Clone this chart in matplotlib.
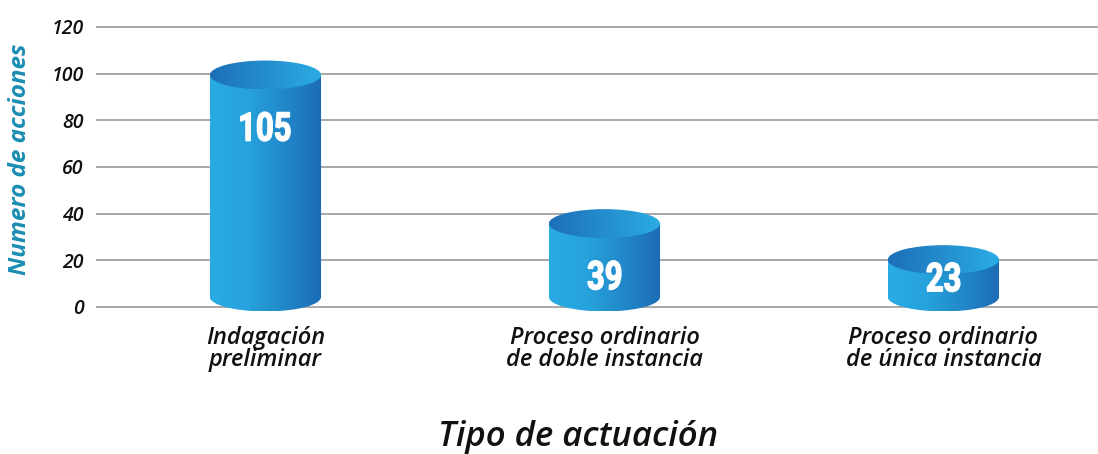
import matplotlib
matplotlib.use('Agg')
import matplotlib.pyplot as plt
import numpy as np
from matplotlib.patches import Polygon, Ellipse, PathPatch
from matplotlib.colors import LinearSegmentedColormap
from matplotlib.textpath import TextPath
from matplotlib.font_manager import FontProperties
import matplotlib.transforms as mtransforms

categories = ['Indagación\npreliminar', 'Proceso ordinario\nde doble instancia',
              'Proceso ordinario\nde única instancia']
values = [105, 39, 23]
yticks = [0, 20, 40, 60, 80, 100, 120]
y_label = 'Numero de acciones'
x_label = 'Tipo de actuación'

plt.rcParams['font.family'] = ['Open Sans', 'DejaVu Sans']

fig = plt.figure(figsize=(10.98, 4.54), dpi=100)
ax = fig.add_axes([0.0874, 0.3084, 0.9126, 0.6373])
XMIN, XMAX, YMIN, YMAX = -0.5, 2.456, -3, 121
ax.set_xlim(XMIN, XMAX)
ax.set_ylim(YMIN, YMAX)

for s in ax.spines.values():
    s.set_visible(False)
ax.set_yticks(yticks)
ax.yaxis.grid(True, color='#9a9a9a', linewidth=1.2)
ax.set_axisbelow(True)
ax.tick_params(axis='y', length=0, pad=9, labelsize=14, labelcolor='#111111')
for lab in ax.get_yticklabels():
    lab.set_fontstyle('italic')
    lab.set_fontweight('semibold')

x = np.arange(len(categories))
ax.set_xticks(x)
ax.set_xticklabels(categories, fontsize=17, fontstyle='italic', color='#111111',
                   fontweight='semibold', linespacing=0.88)
ax.tick_params(axis='x', length=0, pad=9)

body_cmap = LinearSegmentedColormap.from_list(
    'body', [(0, '#2aabe3'), (0.35, '#26a2dc'), (1, '#1c6cb5')])
top_cmap = LinearSegmentedColormap.from_list(
    'top', [(0, '#1d6fb7'), (1, '#2badE4')])

hw = 0.164      # half width in data units
e = 6.2         # ellipse half height in data units
yb = 4.3        # bottom ellipse centre
scale = 0.965
grad = np.linspace(0, 1, 256).reshape(1, -1)
num_fp = FontProperties(family='Roboto', weight='bold')

for xi, v in zip(x, values):
    top_edge = yb + v * scale
    yt = top_edge - e
    th = np.linspace(np.pi, 2 * np.pi, 100)
    bx = xi + hw * np.cos(th)
    by = yb + e * np.sin(th)
    pts = np.column_stack([bx, by])
    pts = np.vstack([pts, [[xi + hw, yt], [xi - hw, yt]]])
    body = Polygon(pts, closed=True, facecolor='none', edgecolor='none')
    ax.add_patch(body)
    im = ax.imshow(grad, cmap=body_cmap, extent=[xi - hw, xi + hw, yb - e, yt],
                   aspect='auto', zorder=2, interpolation='bicubic')
    im.set_clip_path(body)
    top = Ellipse((xi, yt), 2 * hw, 2 * e, facecolor='none', edgecolor='none')
    ax.add_patch(top)
    im2 = ax.imshow(grad, cmap=top_cmap, extent=[xi - hw, xi + hw, yt - e, yt + e],
                    aspect='auto', zorder=3, interpolation='bicubic')
    im2.set_clip_path(top)

    # condensed white value label
    ly = max(top_edge - 28.3, 12.8)
    tp = TextPath((0, 0), str(v), size=1, prop=num_fp)
    ext = tp.get_extents()
    sy = 29.0 / ext.height
    sx = sy * 0.78
    cx, cy = ax.transData.transform((xi, ly))
    tr = (mtransforms.Affine2D()
          .translate(-(ext.x0 + ext.width / 2), -(ext.y0 + ext.height / 2))
          .scale(sx, sy)
          .translate(cx, cy))
    ax.add_patch(PathPatch(tp, transform=tr, facecolor='white', edgecolor='white',
                           linewidth=1.0, zorder=5))

ax.set_xlim(XMIN, XMAX)
ax.set_ylim(YMIN, YMAX)

fig.text(20 / 1098, 0.6487, y_label, rotation=90, ha='center', va='center',
         fontsize=17.5, fontweight='bold', fontstyle='italic', color='#1b8db3')
fig.text(578 / 1098, 0.0374, x_label, ha='center', va='center',
         fontsize=25, fontstyle='italic', fontweight='semibold', color='#111111')

fig.savefig('out.png', dpi=100, facecolor='white')
